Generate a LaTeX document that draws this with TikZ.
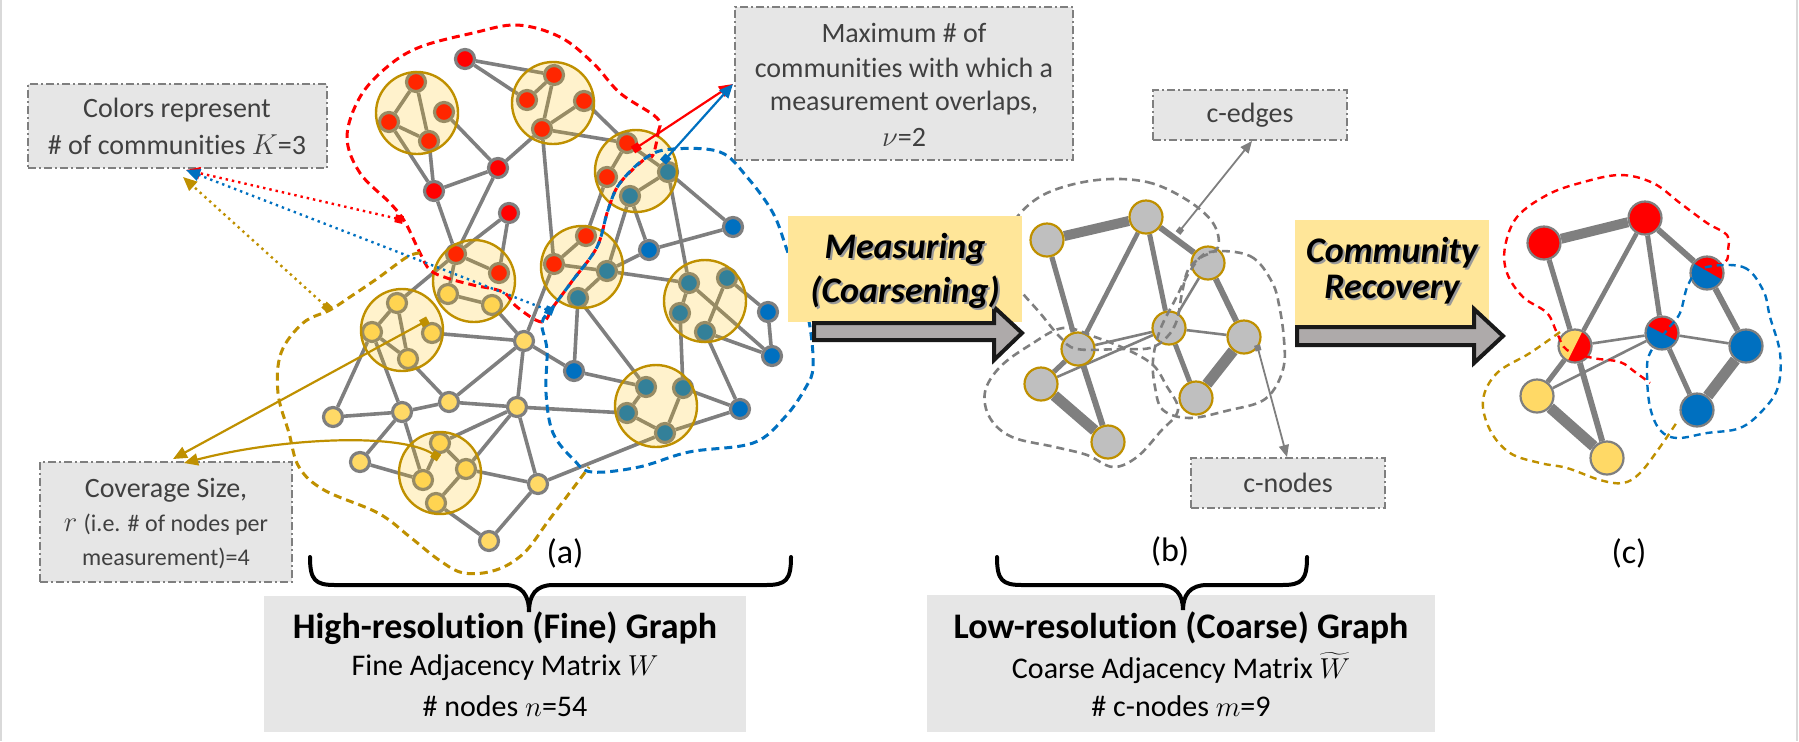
\documentclass[tikz,border=0pt]{standalone}
\usepackage{fontspec}
\setmainfont{Carlito}[Ligatures=NoCommon]
\usetikzlibrary{arrows.meta,calc}
\pgfdeclarelayer{edges}
\pgfsetlayers{edges,main}
\definecolor{cred}{HTML}{FF0000}
\definecolor{cblue}{HTML}{0070C0}
\definecolor{cyel}{HTML}{FFD966}
\definecolor{cgold}{HTML}{BF9000}
\definecolor{cgray}{HTML}{7F7F7F}
\definecolor{cbox}{HTML}{E6E6E6}
\definecolor{cyelbox}{HTML}{FFE699}
\definecolor{carrow}{HTML}{AEAAAA}
\definecolor{cnodefill}{HTML}{BFBFBF}
\definecolor{ctext}{HTML}{404040}
\definecolor{cfill}{HTML}{FFC000}
\begin{document}
\begin{tikzpicture}[x=0.5pt,y=-0.5pt,
  fe/.style={draw=cgray,line width=1.8pt},
  fnode/.style={circle,draw=cgray,line width=1.6pt,minimum size=9.5pt,inner sep=0pt},
  rn/.style={fnode,fill=cred},
  bn/.style={fnode,fill=cblue},
  yn/.style={fnode,fill=cyel},
  comm/.style={circle,draw=cgold,line width=1.2pt,fill=cfill,fill opacity=0.2,minimum size=41pt,inner sep=0pt},
  cn/.style={circle,fill=cnodefill,draw=cgold,line width=1.1pt,minimum size=16.5pt,inner sep=0pt},
  cnb/.style={circle,draw=cgray,line width=1.1pt,minimum size=16.5pt,inner sep=0pt},
  dred/.style={draw=cred,line width=1.5pt,dash pattern=on 4pt off 2.5pt},
  dblue/.style={draw=cblue,line width=1.5pt,dash pattern=on 4pt off 2.5pt},
  dgold/.style={draw=cgold,line width=1.5pt,dash pattern=on 4pt off 2.5pt},
  dgray/.style={draw=cgray,line width=1.3pt,dash pattern=on 4pt off 2.5pt},
  sred/.style={draw=cred,line width=1.2pt,dash pattern=on 3.5pt off 2.5pt},
  sblue/.style={draw=cblue,line width=1.2pt,dash pattern=on 3.5pt off 2.5pt},
  sgold/.style={draw=cgold,line width=1.2pt,dash pattern=on 3.5pt off 2.5pt},
  abox/.style={draw=cgray,fill=cbox,line width=0.9pt,dash pattern=on 4pt off 1.5pt on 1pt off 1.5pt,inner sep=0pt},
  atext/.style={text=ctext,font=\fontsize{14}{16}\selectfont,inner sep=0pt},
  bbox/.style={fill=cbox,inner sep=0pt},
  btitle/.style={font=\bfseries\fontsize{18}{20}\selectfont,inner sep=0pt},
  bline/.style={font=\fontsize{15}{18}\selectfont,inner sep=0pt},
  ybox/.style={fill=cyelbox,inner sep=0pt},
  mtext/.style={font=\bfseries\itshape\fontsize{18}{20}\selectfont,inner sep=0pt},
  bigarrow/.style={fill=carrow,draw=black!90,line width=2pt,line join=miter},
  brace/.style={draw=black,line width=2pt,line cap=round},
  lab/.style={font=\fontsize{17}{20}\selectfont,inner sep=0pt},
  anno/.style={line width=1.1pt,{Square[length=4pt,width=4pt]}-{Triangle[length=7pt,width=6pt]}},
  dotanno/.style={line width=1.2pt,dotted,{Square[length=4pt,width=4pt]}-{Triangle[length=7pt,width=6pt]}},
  garrow/.style={draw=cgray,line width=0.9pt,{Square[length=3pt,width=3pt]}-{Triangle[length=6pt,width=5pt]}}
]
\useasboundingbox (0,0) rectangle (1799,741);
\draw[black!15,line width=0.8pt] (1,0) -- (1,741);
\draw[black!15,line width=0.8pt] (1797,0) -- (1797,741);

% ---------- bottom boxes ----------
\node[bbox,minimum width=241pt,minimum height=68pt] (hbox) at (505,664) {};
\node[btitle] (ht1) at (505,628) {High-resolution (Fine) Graph};
\node[bline] (ht2) at (505,668) {Fine Adjacency Matrix $W$};
\node[bline] (ht3) at (505,706) {\# nodes $n$=54};
\node[bbox,minimum width=254pt,minimum height=68.5pt] (lbox) at (1181,663.5) {};
\node[btitle] (lt1) at (1181,628) {Low-resolution (Coarse) Graph};
\node[bline] (lt2) at (1181,668) {Coarse Adjacency Matrix $\widetilde{W}$};
\node[bline] (lt3) at (1181,706) {\# c-nodes $m$=9};

% ---------- braces and labels ----------
\draw[brace] (310,557) .. controls (310,580) and (315,585) .. (335,585) -- (505,585) .. controls (522,585) and (529,595) .. (529,612) .. controls (529,595) and (536,585) .. (553,585) -- (766,585) .. controls (786,585) and (791,580) .. (791,557);
\draw[brace] (997,557) .. controls (997,580) and (1002,585) .. (1022,585) -- (1159,585) .. controls (1176,585) and (1183,595) .. (1183,610) .. controls (1183,595) and (1190,585) .. (1207,585) -- (1282,585) .. controls (1302,585) and (1307,580) .. (1307,557);
\node[lab] (la) at (565,553) {(a)};
\node[lab] (lb) at (1170,551) {(b)};
\node[lab] (lc) at (1629,553) {(c)};

% ---------- fine graph nodes ----------
\node[rn] (r1) at (465,59) {};
\node[rn] (r2) at (498,168) {};
\node[rn] (r3) at (434,191) {};
\node[rn] (r4) at (509,213) {};
\node[rn] (a1) at (416,82) {};
\node[rn] (a2) at (389,122) {};
\node[rn] (a3) at (444,112) {};
\node[rn] (a4) at (429,141) {};
\node[rn] (b1) at (554,75) {};
\node[rn] (b2) at (527,100) {};
\node[rn] (b3) at (584,101) {};
\node[rn] (b4) at (542,129) {};
\node[rn] (c1) at (627,143) {};
\node[rn] (c2) at (607,177) {};
\node[bn] (c3) at (668,172) {};
\node[bn] (c4) at (630,196) {};
\node[rn] (d1) at (456,254) {};
\node[rn] (d2) at (499,273) {};
\node[yn] (d3) at (448,294) {};
\node[yn] (d4) at (492,305) {};
\node[rn] (e1) at (586,236) {};
\node[rn] (e2) at (554,264) {};
\node[bn] (e3) at (607,271) {};
\node[bn] (e4) at (578,298) {};
\node[bn] (f1) at (689,283) {};
\node[bn] (f2) at (727,278) {};
\node[bn] (f3) at (680,313) {};
\node[bn] (f4) at (705,332) {};
\node[yn] (h1) at (397,303) {};
\node[yn] (h2) at (372,332) {};
\node[yn] (h3) at (432,333) {};
\node[yn] (h4) at (408,359) {};
\node[bn] (i1) at (646,387) {};
\node[bn] (i2) at (683,388) {};
\node[bn] (i3) at (627,413) {};
\node[bn] (i4) at (665,433) {};
\node[yn] (j1) at (440,443) {};
\node[yn] (j2) at (423,480) {};
\node[yn] (j3) at (466,469) {};
\node[yn] (j4) at (436,503) {};
\node[bn] (u1) at (649,250) {};
\node[bn] (u2) at (733,227) {};
\node[bn] (u3) at (768,312) {};
\node[bn] (u4) at (772,356) {};
\node[bn] (u5) at (574,371) {};
\node[bn] (u6) at (740,409) {};
\node[yn] (y1) at (524,341) {};
\node[yn] (y2) at (333,417) {};
\node[yn] (y3) at (402,412) {};
\node[yn] (y4) at (449,402) {};
\node[yn] (y5) at (517,407) {};
\node[yn] (y6) at (360,462) {};
\node[yn] (y7) at (538,484) {};
\node[yn] (y8) at (489,541) {};

\begin{pgfonlayer}{edges}
\foreach \u/\v in {r1/b1,r1/b2,a1/a2,a1/a4,a2/a4,a3/r2,a2/r3,a4/r3,
  r2/r3,r2/b4,r2/d1,r3/d1,r4/d1,r4/d2,b1/b2,b1/b4,b3/b4,b3/c1,b4/c1,b4/e2,
  c1/c2,c1/c3,c3/c4,c2/e1,c4/e3,c4/u1,c3/f1,c3/u2,e3/u1,u1/u2,e1/e2,e2/e3,e3/e4,e3/f1,e4/u5,e4/i1,
  u5/i1,y1/u5,f1/u4,f2/f4,f4/u4,u3/u4,f2/u3,f3/i2,f4/u6,f1/f3,
  i1/i3,i2/i4,i3/i4,i2/u6,i4/u6,i3/y5,i4/y7,
  y1/d4,y1/e2,y1/h3,y1/y4,y1/y5,h1/d1,h1/h2,h1/h4,h2/h4,h2/y2,h2/y3,h4/y4,
  y2/y3,y3/y4,y4/y5,y3/y6,y3/j2,y6/j2,y5/j1,y5/j3,y5/y7,
  j1/j2,j1/j3,j3/j4,j3/y7,j4/y8,y7/y8,d1/d2,d3/d4,d1/d3}
  \draw[fe] (\u) -- (\v);
\end{pgfonlayer}

% community circles (translucent)
\node[comm] (cA) at (417,113) {};
\node[comm] (cB) at (553,103) {};
\node[comm] (cC) at (636,171) {};
\node[comm] (cD) at (474,281) {};
\node[comm] (cE) at (582,267) {};
\node[comm] (cF) at (705,301) {};
\node[comm] (cH) at (402,330) {};
\node[comm] (cI) at (656,406) {};
\node[comm] (cJ) at (440,473) {};

% community outlines (a)
\draw[dred] plot[smooth cycle,tension=0.6] coordinates {(653,155) (658,133) (657,118) (620,93) (593,63) (560,37) (517,25) (473,33) (420,47) (387,67) (360,97) (347,137) (360,173) (390,203) (405,222) (420,253) (430,270) (447,278) (473,285) (503,292) (517,307) (542,322) (553,307) (573,280) (597,247) (608,210) (620,183) (647,157)};
\draw[dblue] plot[smooth cycle,tension=0.6] coordinates {(553,307) (573,280) (597,247) (608,210) (620,183) (647,157) (673,149) (720,152) (747,177) (773,213) (787,250) (800,287) (810,327) (813,367) (806,387) (785,417) (753,443) (689,452) (639,467) (592,472) (574,460) (553,433) (546,393) (547,350) (542,323)};
\draw[dgold] plot[smooth,tension=0.6] coordinates {(420,253) (407,257) (378,278) (350,297) (330,310) (303,323) (281,353) (278,393) (289,433) (299,467) (324,490) (378,513) (410,537) (439,560) (464,573) (496,570) (524,553) (549,520) (574,487) (589,467)};

% ---------- coarse graph (b) ----------
\node[cn] (N1) at (1047,240) {};
\node[cn] (N2) at (1146,217) {};
\node[cn] (N3) at (1208,263) {};
\node[cn] (N4) at (1169,328) {};
\node[cn] (N5) at (1244,337) {};
\node[cn] (N6) at (1078,349) {};
\node[cn] (N7) at (1041,384) {};
\node[cn] (N8) at (1196,398) {};
\node[cn] (N9) at (1108,442) {};
\begin{pgfonlayer}{edges}
\foreach \u/\v/\w in {N1/N2/5pt,N1/N6/2.6pt,N2/N6/2.3pt,N2/N4/2.5pt,N2/N3/3pt,N3/N5/3pt,N3/N4/1.3pt,N4/N6/1.3pt,N4/N7/1.3pt,N4/N5/1.3pt,N4/N8/2.5pt,N5/N8/5.5pt,N6/N7/2.5pt,N6/N9/3pt,N7/N9/5.5pt}
  \draw[draw=cgray,line width=\w] (\u) -- (\v);
\end{pgfonlayer}
\draw[dgray] plot[smooth cycle,tension=0.6] coordinates {(1097,180) (1147,182) (1187,200) (1213,223) (1218,247) (1200,258) (1188,270) (1182,293) (1177,320) (1167,337) (1150,348) (1120,349) (1077,349) (1060,337) (1040,313) (1020,290) (1005,267) (1003,247) (1017,217) (1047,193)};
\draw[dgray] plot[smooth cycle,tension=0.6] coordinates {(1210,252) (1250,256) (1272,282) (1280,310) (1284,340) (1284,365) (1275,388) (1260,402) (1230,410) (1190,418) (1163,410) (1155,387) (1153,360) (1160,330) (1175,300) (1192,268)};
\draw[dgray] plot[smooth cycle,tension=0.6] coordinates {(1063,328) (1030,345) (1000,367) (985,392) (990,418) (1012,437) (1055,447) (1087,455) (1113,467) (1137,457) (1160,432) (1178,410) (1166,385) (1153,365) (1128,350) (1095,337)};

% ---------- recovered graph (c) ----------
\begin{scope}[shift={(1707,273)}]
  \clip (0,0) circle[radius=8.5pt];
  \fill[cblue] (-20,-20) rectangle (20,20);
  \fill[cred] (-24,-16) -- (26,13) -- (26,-40) -- (-24,-40) -- cycle;
\end{scope}
\begin{scope}[shift={(1662,333)}]
  \clip (0,0) circle[radius=8.5pt];
  \fill[cblue] (-20,-20) rectangle (20,20);
  \fill[cred] (-25,-13) -- (25,13) -- (25,-40) -- (-25,-40) -- cycle;
\end{scope}
\begin{scope}[shift={(1575,346)}]
  \clip (0,0) circle[radius=8.5pt];
  \fill[cred] (-20,-20) rectangle (20,20);
  \fill[cyel] (13,-26) -- (-13,26) -- (-40,26) -- (-40,-26) -- cycle;
\end{scope}
\node[cnb,fill=cred] (C1) at (1544,243) {};
\node[cnb,fill=cred] (C2) at (1645,218) {};
\node[cnb] (C3) at (1707,273) {};
\node[cnb] (C4) at (1662,333) {};
\node[cnb,fill=cblue] (C5) at (1746,346) {};
\node[cnb] (C6) at (1575,346) {};
\node[cnb,fill=cyel] (C7) at (1537,396) {};
\node[cnb,fill=cblue] (C8) at (1697,410) {};
\node[cnb,fill=cyel] (C9) at (1607,458) {};
\begin{pgfonlayer}{edges}
\foreach \u/\v/\w in {C1/C2/5pt,C1/C6/2.6pt,C2/C6/2.3pt,C2/C4/2.5pt,C2/C3/3pt,C3/C5/3pt,C4/C6/1.3pt,C4/C7/1.3pt,C4/C5/1.3pt,C4/C8/2.5pt,C5/C8/5.5pt,C6/C7/2.5pt,C6/C9/3pt,C7/C9/5.5pt}
  \draw[draw=cgray,line width=\w] (\u) -- (\v);
\end{pgfonlayer}
\draw[sred] plot[smooth,tension=0.6] coordinates {(1703,268) (1725,262) (1728,250) (1727,235) (1707,223) (1680,203) (1653,183) (1620,175) (1580,183) (1547,195) (1517,217) (1505,247) (1507,273) (1523,297) (1547,313) (1557,333) (1567,350) (1593,358) (1620,362) (1635,372) (1650,383)};
\draw[sblue] plot[smooth cycle,tension=0.6] coordinates {(1703,268) (1743,267) (1763,290) (1770,317) (1780,353) (1778,387) (1763,410) (1740,428) (1707,433) (1677,438) (1660,430) (1650,407) (1647,373) (1650,353) (1667,330) (1680,313) (1688,285)};
\draw[sgold] plot[smooth,tension=0.6] coordinates {(1560,332) (1530,353) (1497,373) (1483,400) (1490,430) (1510,453) (1540,463) (1567,468) (1600,480) (1623,483) (1640,473) (1660,447) (1677,422)};

% ---------- big arrows ----------
\node[ybox,minimum width=117pt,minimum height=53pt] (ymeas) at (905,269) {};
\draw[bigarrow] (814,323) -- (994,323) -- (994,307) -- (1022,333) -- (994,360) -- (994,340) -- (814,340) -- cycle;
\node[mtext,text=black!40] (ms1s) at (907,251) {Measuring};
\node[mtext] (ms1) at (905,249) {Measuring};
\node[mtext,text=black!40] (ms2s) at (907,294) {(Coarsening)};
\node[mtext] (ms2) at (905,292) {(Coarsening)};
\node[ybox,minimum width=97pt,minimum height=52.5pt] (yrec) at (1392,272.5) {};
\draw[bigarrow] (1297,327) -- (1474,327) -- (1474,309) -- (1503,336) -- (1474,363) -- (1474,345) -- (1297,345) -- cycle;
\node[mtext,text=black!40] (cr1s) at (1394,255) {Community};
\node[mtext] (cr1) at (1392,253) {Community};
\node[mtext,text=black!40] (cr2s) at (1394,292) {Recovery};
\node[mtext] (cr2) at (1392,290) {Recovery};

% ---------- annotation boxes ----------
\node[abox,minimum width=149.5pt,minimum height=42pt] (colbox) at (177.5,126) {};
\node[atext] (colt1) at (177,110) {Colors represent};
\node[atext] (colt2) at (177,145) {\# of communities $K$=3};
\node[abox,minimum width=169pt,minimum height=76.5pt] (maxbox) at (904,83.5) {};
\node[atext] (maxt1) at (904,33) {Maximum \# of};
\node[atext] (maxt2) at (904,68) {communities with which a};
\node[atext] (maxt3) at (904,103) {measurement overlaps,};
\node[atext] (maxt4) at (904,137) {$\nu$=2};
\node[abox,minimum width=97pt,minimum height=25pt] (cebox) at (1250,115) {};
\node[atext] (cet) at (1250,115) {c-edges};
\node[abox,minimum width=97pt,minimum height=25pt] (cnbox) at (1288,483) {};
\node[atext] (cnt) at (1288,483) {c-nodes};
\node[abox,minimum width=126pt,minimum height=60pt] (covbox) at (166,522) {};
\node[atext] (covt1) at (166,490) {Coverage Size,};
\node[atext] (covt2) at (166,525) {$r$ {\fontsize{12}{14}\selectfont (i.e. \# of nodes per}};
\node[atext,font=\fontsize{12}{14}\selectfont] (covt3) at (166,558) {measurement)=4};

% ---------- annotation arrows ----------
\coordinate (mR) at (403,220);
\coordinate (mB) at (553,312);
\coordinate (mG) at (330,310);
\coordinate (tK1) at (186,170);
\coordinate (tK2) at (183,177);
\draw[dotanno,cred] (mR) -- (tK1);
\draw[dotanno,cgold] (mG) -- (tK2);
\draw[dotanno,cblue] (mB) -- (tK1);
\coordinate (mRv) at (633,150);
\coordinate (mBv) at (663,162);
\coordinate (tV) at (733,84);
\draw[anno,cred] (mRv) -- (tV);
\draw[anno,cblue] (mBv) -- (tV);
\coordinate (mH) at (428,320);
\coordinate (mJ) at (439,458);
\coordinate (tC1) at (173,459);
\coordinate (tC2) at (184,463);
\draw[anno,cgold] (mH) -- (tC1);
\draw[anno,cgold] (mJ) .. controls (400,432) and (280,438) .. (tC2);
\coordinate (mE) at (1178,233);
\coordinate (tE) at (1252,141);
\coordinate (mN) at (1257,345);
\coordinate (tN) at (1287,457);
\draw[garrow] (mE) -- (tE);
\draw[garrow] (mN) -- (tN);
\end{tikzpicture}
\end{document}
